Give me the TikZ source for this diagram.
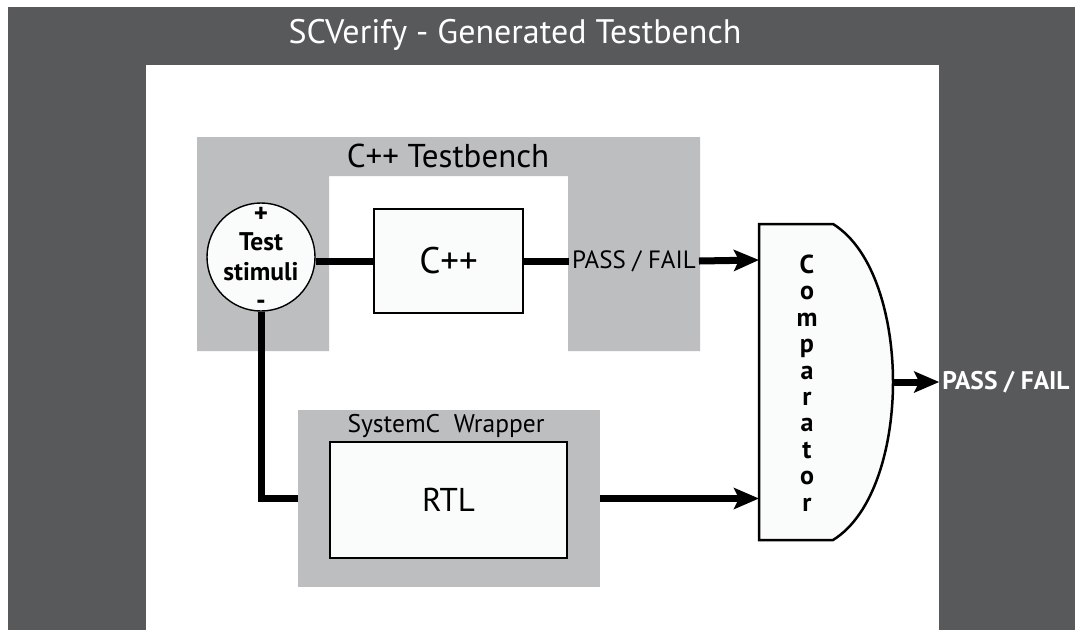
\documentclass[tikz,border=0pt]{standalone}
\usepackage{fontspec}
\setmainfont{PT Sans}
\usetikzlibrary{arrows.meta, positioning}
\definecolor{framegrey}{RGB}{88,89,91}
\definecolor{panelgrey}{RGB}{188,190,192}
\definecolor{boxwhite}{RGB}{250,251,251}
\tikzset{
  wire/.style={line width=7pt},
  flow/.style={line width=7pt, -{Stealth[length=25pt,width=21pt,inset=5pt]}},
  block/.style={draw, line width=1.2pt, fill=boxwhite, inner sep=0pt},
  panel/.style={fill=panelgrey, inner sep=0pt},
  txt/.style={inner sep=0.75pt, text=black}
}
\begin{document}
\begin{tikzpicture}[x=1pt,y=1pt,yscale=-1,xscale=1]
\useasboundingbox (0,0) rectangle (1075,630);
\fill[white] (0,0) rectangle (1075,630);

%Shape: Frame
\fill[framegrey] (8,7) rectangle (1075,630);
\fill[white] (146,65) rectangle (939,630);
% Text Node
\node[txt, text=white, font=\fontsize{34}{40}\selectfont] (title) at (515,35) {SCVerify - Generated Testbench};

%Shape: C++ Testbench panel
\fill[panelgrey] (197,137) -- (700,137) -- (700,351) -- (568,351) -- (568,176) -- (329,176) -- (329,351) -- (197,351) -- cycle;
% Text Node
\node[txt, font=\fontsize{33}{38}\selectfont] (tblabel) at (448,156) {C++ Testbench};

%Shape: Test stimuli circle
\node[circle, draw, line width=1.4pt, fill=boxwhite, minimum size=108pt, inner sep=0pt,
      align=center, font=\bfseries\fontsize{25.5}{30}\selectfont] (stim) at (261,257) {Test\\stimuli};
\node[txt, font=\bfseries\fontsize{27}{28}\selectfont, below=4pt of stim.north] (plus) {+};
\node[txt, font=\bfseries\fontsize{27}{28}\selectfont, above=1pt of stim.south] (minus) {-};

%Shape: C++ block
\node[block, minimum width=149pt, minimum height=104pt, font=\fontsize{37}{42}\selectfont] (cpp) at (448.5,261) {C++};
% Text Node
\node[txt, inner sep=3pt, font=\fontsize{25}{30}\selectfont] (pf) at (634,261) {PASS / FAIL};

%Shape: SystemC Wrapper panel
\node[panel, minimum width=302pt, minimum height=177pt] (wrap) at (449,498.5) {};
% Text Node
\node[txt, font=\fontsize{25.5}{30}\selectfont] (wraplabel) at (446,426) {SystemC\ \ Wrapper};
%Shape: RTL block
\node[block, minimum width=237pt, minimum height=116pt, font=\fontsize{33}{38}\selectfont] (rtl) at (448.5,500) {RTL};

%Shape: Comparator
\draw[line width=2.5pt, fill=boxwhite] (759,224) -- (833,224) .. controls (875,250) and (893,320) .. (893,382) .. controls (893,444) and (875,514) .. (833,540) -- (759,540) -- cycle;
\coordinate (cmpin1) at (759,260);
\coordinate (cmpin2) at (759,498.5);
\coordinate (cmpout) at (892,382);
% Text Node
\node[txt, align=center, font=\bfseries\fontsize{26}{26.4}\selectfont] (cmptext) at (807,383) {C\\o\\m\\p\\a\\r\\a\\t\\o\\r};
% Text Node
\node[txt, inner sep=3pt, text=white, font=\bfseries\fontsize{25.5}{30}\selectfont] (result) at (1006,382) {PASS / FAIL};

%Straight Lines
\draw[wire] (stim.east |- cpp.west) -- (cpp.west);
\draw[wire] (cpp.east) -- (pf.west);
\draw[flow] (pf.east) -- (cmpin1);
\draw[wire] (stim.south) |- (wrap.west);
\draw[flow] (wrap.east) -- (cmpin2);
\draw[flow] (cmpout) -- (result.west);

\end{tikzpicture}
\end{document}
